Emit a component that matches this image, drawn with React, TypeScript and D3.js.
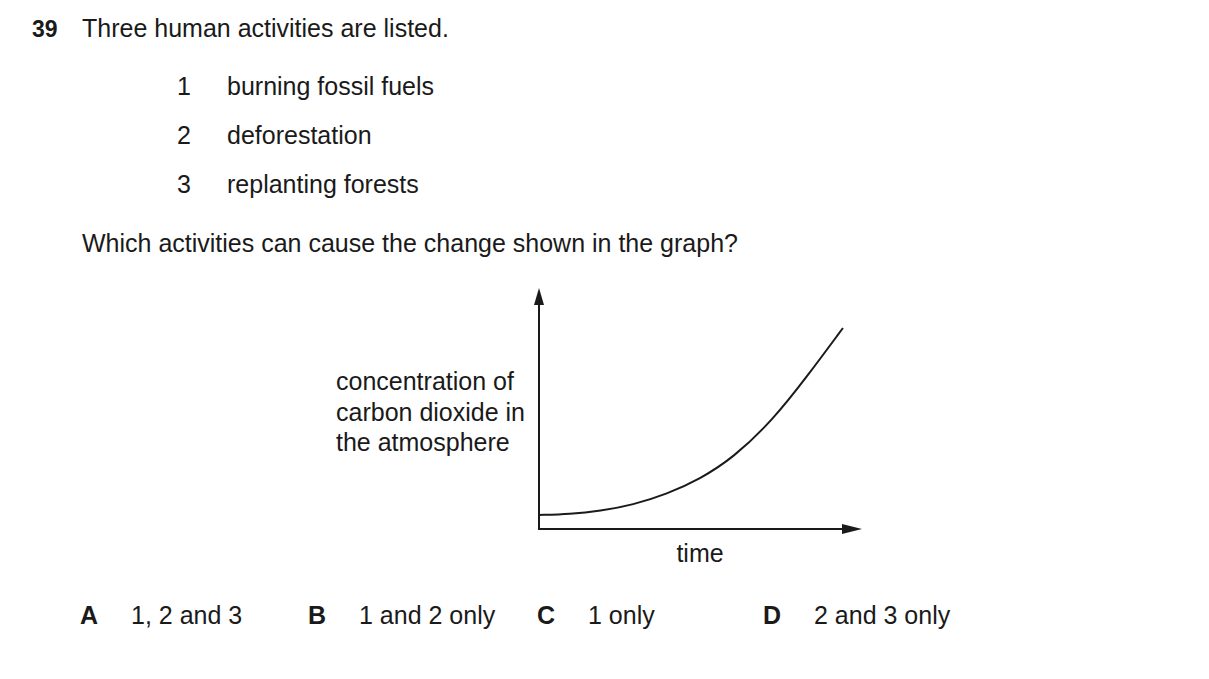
import React from "react";
import * as d3 from "d3";

const timeValues = [0, 9.6, 18.9, 29.1, 39.6, 49.8, 60.1, 72.4, 82.9, 94.1];
const co2Values = [5.8, 6.2, 7.5, 10.0, 14.5, 20.7, 29.5, 45.2, 63.1, 83.4];

const activities = ["burning fossil fuels", "deforestation", "replanting forests"];
const yLabelLines = ["concentration of", "carbon dioxide in", "the atmosphere"];
const answerLetters = ["A", "B", "C", "D"];
const answerTexts = ["1, 2 and 3", "1 and 2 only", "1 only", "2 and 3 only"];

const W = 1209;
const H = 679;
const FONT = "'Liberation Sans', Arial, sans-serif";

export default function App() {
  const x = d3.scaleLinear().domain([0, 100]).range([539, 862]);
  const y = d3.scaleLinear().domain([0, 100]).range([529, 288]);
  const pts = timeValues.map((t, i) => [t, co2Values[i]] as [number, number]);
  const line = d3
    .line<[number, number]>()
    .x((d) => x(d[0]))
    .y((d) => y(d[1]))
    .curve(d3.curveBasis);

  const x0 = x(0);
  const y0 = y(0);
  const yTop = y(100);
  const xEnd = x(100);
  const fs = 25;
  const col = "#1a1a1a";
  const answerX = [80, 308, 537, 763];

  return (
    <svg
      width={W}
      height={H}
      style={{ position: "absolute", left: 0, top: 0, background: "#fff" }}
      fontFamily={FONT}
      fontSize={fs}
      fill={col}
    >
      <text x={32} y={37} fontWeight="bold" fontSize={23}>39</text>
      <text x={82} y={37}>Three human activities are listed.</text>
      {activities.map((a, i) => (
        <g key={a}>
          <text x={184} y={95 + i * 49} textAnchor="middle">{i + 1}</text>
          <text x={227} y={95 + i * 49}>{a}</text>
        </g>
      ))}
      <text x={82} y={252}>Which activities can cause the change shown in the graph?</text>

      {yLabelLines.map((l, i) => (
        <text key={l} x={336} y={390 + i * 30.5}>{l}</text>
      ))}
      <text x={700} y={562} textAnchor="middle">time</text>

      {/* axes */}
      <line x1={x0} y1={y0} x2={x0} y2={yTop + 14} stroke={col} strokeWidth={2} />
      <path d={`M${x0},${yTop} L${x0 - 5},${yTop + 17} L${x0 + 5},${yTop + 17} Z`} fill={col} />
      <line x1={x0 - 1} y1={y0} x2={xEnd - 14} y2={y0} stroke={col} strokeWidth={2} />
      <path d={`M${xEnd},${y0} L${xEnd - 20},${y0 - 5} L${xEnd - 20},${y0 + 5} Z`} fill={col} />

      <path d={line(pts) || ""} fill="none" stroke={col} strokeWidth={2} />

      {answerLetters.map((l, i) => (
        <g key={l}>
          <text x={answerX[i]} y={624} fontWeight="bold">{l}</text>
          <text x={answerX[i] + 51} y={624}>{answerTexts[i]}</text>
        </g>
      ))}
    </svg>
  );
}
